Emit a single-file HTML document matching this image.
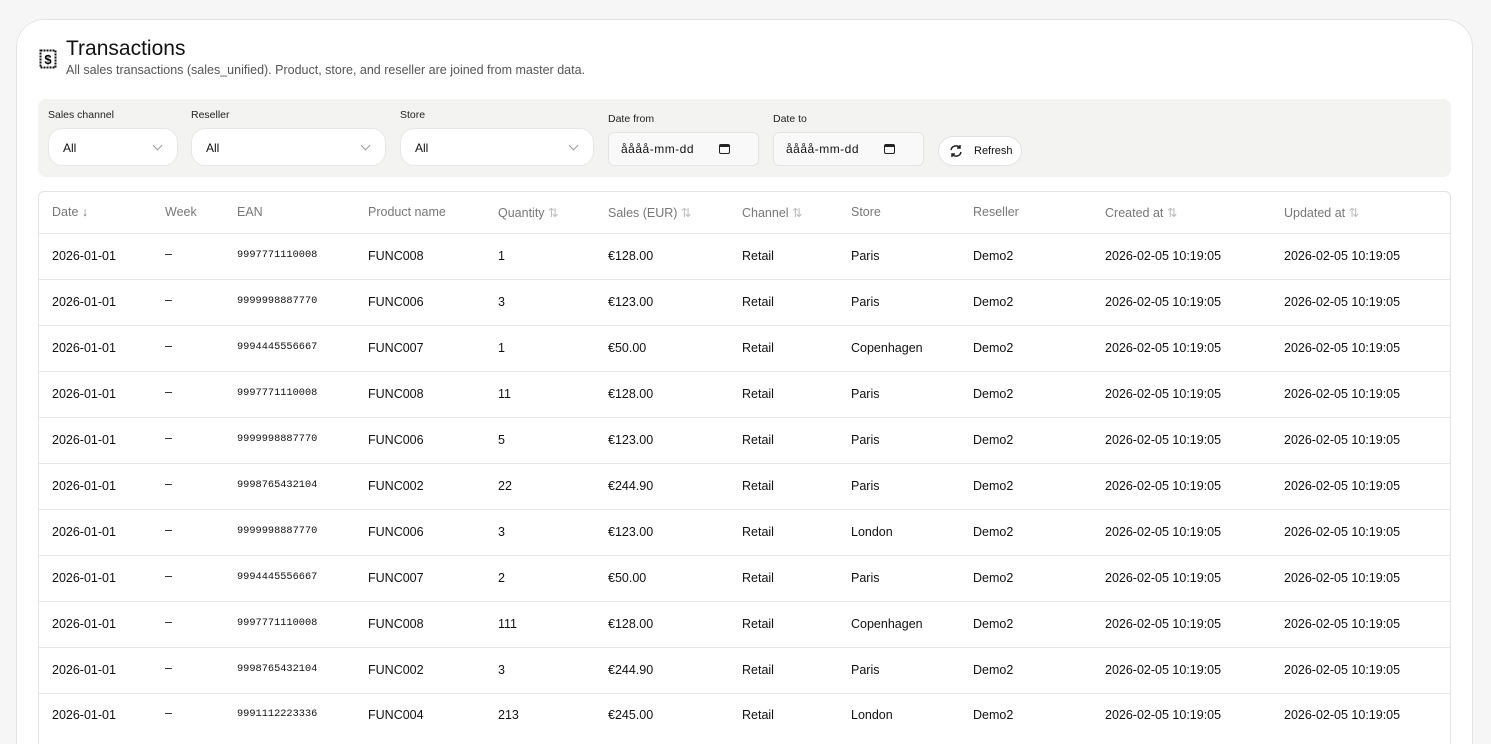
<!DOCTYPE html>
<html><head><meta charset="utf-8"><style>
*{box-sizing:border-box;margin:0;padding:0}
html{width:1491px;height:744px;overflow:hidden}
body{width:1491px;height:744px;overflow:hidden;background:#f6f6f6;font-family:"Liberation Sans",sans-serif;color:#111;position:relative}
.card{position:absolute;left:16px;top:19px;width:1457px;height:725px;background:#fff;border:1px solid #e4e4e4;border-bottom:none;border-radius:28px 28px 0 0}
.abs{position:absolute}
h1{position:absolute;left:66px;top:37px;font-size:21px;font-weight:400;color:#111}
.sub{left:66px;top:63px;font-size:12.5px;color:#555}
.filters{left:38px;top:99px;width:1413px;height:78px;background:#f3f3f1;border-radius:8px}
.lbl{font-size:10.5px;color:#222}
.sel{background:#fff;border:1px solid #e6e6e6;border-radius:14px;height:38px;font-size:12px;padding:12px 14px}
.sel .chev{position:absolute;right:16px;top:13px;width:7px;height:7px;border-right:1px solid #999;border-bottom:1px solid #999;transform:rotate(45deg)}
.date{background:#f9f9f9;border:1px solid #e4e4e4;border-radius:6px;height:34px;font-size:12px;padding:9px 12px;letter-spacing:0.5px}
.cal{position:absolute;right:28px;top:11px;width:11px;height:10px;border:1.5px solid #222;border-top-width:3px;border-radius:2px}
.btn{left:938px;top:136px;width:84px;height:30px;background:#fff;border:1px solid #e2e2e2;border-radius:15px;font-size:11px;padding:8px 0 0 35px}
.table{left:38px;top:191px;width:1413px;height:553px;border:1px solid #e4e4e4;border-bottom:none;border-radius:6px 6px 0 0}
.th{font-size:12.5px;color:#777;top:205px}
.row{position:absolute;left:39px;width:1411px;border-top:1px solid #e6e6e6;height:46px}
.c{position:absolute;font-size:12.5px;color:#111}
.ean{font-family:"Liberation Mono",monospace;font-size:10.3px}
</style></head><body>
<div class="card"></div>
<svg class="abs" style="left:39px;top:49px" width="18" height="20" viewBox="0 0 18 20"><rect x="1.5" y="1.5" width="15" height="17" fill="none" stroke="#111" stroke-width="2" stroke-dasharray="2 1"/><text x="9" y="15" font-size="13" font-weight="bold" text-anchor="middle" font-family="Liberation Sans">$</text></svg>
<h1>Transactions</h1>
<div class="abs sub">All sales transactions (sales_unified). Product, store, and reseller are joined from master data.</div>
<div class="abs filters"></div>
<div class="abs lbl" style="left:48px;top:109px">Sales channel</div>
<div class="abs lbl" style="left:191px;top:109px">Reseller</div>
<div class="abs lbl" style="left:400px;top:109px">Store</div>
<div class="abs lbl" style="left:608px;top:113px">Date from</div>
<div class="abs lbl" style="left:773px;top:113px">Date to</div>
<div class="abs sel" style="left:48px;top:128px;width:130px">All<span class="chev"></span></div>
<div class="abs sel" style="left:191px;top:128px;width:195px">All<span class="chev"></span></div>
<div class="abs sel" style="left:400px;top:128px;width:194px">All<span class="chev"></span></div>
<div class="abs date" style="left:608px;top:132px;width:151px">åååå-mm-dd<span class="cal"></span></div>
<div class="abs date" style="left:773px;top:132px;width:151px">åååå-mm-dd<span class="cal"></span></div>
<div class="abs btn">Refresh</div>
<svg class="abs" style="left:949px;top:144px" width="14" height="14" viewBox="0 0 14 14" fill="none" stroke="#222" stroke-width="1.5"><path d="M2 6a5 5 0 0 1 9-2M12 8a5 5 0 0 1-9 2"/><path d="M11 1v3H8M3 13v-3h3"/></svg>
<div class="abs table"></div>
<div class="abs th" style="left:52px">Date ↓</div>
<div class="abs th" style="left:165px">Week</div>
<div class="abs th" style="left:237px">EAN</div>
<div class="abs th" style="left:368px">Product name</div>
<div class="abs th" style="left:498px">Quantity <span style="color:#bbb">⇅</span></div>
<div class="abs th" style="left:608px">Sales (EUR) <span style="color:#bbb">⇅</span></div>
<div class="abs th" style="left:742px">Channel <span style="color:#bbb">⇅</span></div>
<div class="abs th" style="left:851px">Store</div>
<div class="abs th" style="left:973px">Reseller</div>
<div class="abs th" style="left:1105px">Created at <span style="color:#bbb">⇅</span></div>
<div class="abs th" style="left:1284px">Updated at <span style="color:#bbb">⇅</span></div>
<div id="rows"></div>
<script>
const d=[["9997771110008","FUNC008","1","€128.00","Paris"],["9999998887770","FUNC006","3","€123.00","Paris"],["9994445556667","FUNC007","1","€50.00","Copenhagen"],["9997771110008","FUNC008","11","€128.00","Paris"],["9999998887770","FUNC006","5","€123.00","Paris"],["9998765432104","FUNC002","22","€244.90","Paris"],["9999998887770","FUNC006","3","€123.00","London"],["9994445556667","FUNC007","2","€50.00","Paris"],["9997771110008","FUNC008","111","€128.00","Copenhagen"],["9998765432104","FUNC002","3","€244.90","Paris"],["9991112223336","FUNC004","213","€245.00","London"]];
let h="";d.forEach((r,i)=>{const t=233+i*46;const y=i==10?14:15;const hh=i==10?(744-t):46;
h+=`<div class="row" style="top:${t}px;height:${hh}px">
<div class="c" style="left:13px;top:${y}px">2026-01-01</div>
<div class="c" style="left:126px;top:${y-2}px">–</div>
<div class="c ean" style="left:198px;top:${y}px">${r[0]}</div>
<div class="c" style="left:329px;top:${y}px">${r[1]}</div>
<div class="c" style="left:459px;top:${y}px">${r[2]}</div>
<div class="c" style="left:569px;top:${y}px">${r[3]}</div>
<div class="c" style="left:703px;top:${y}px">Retail</div>
<div class="c" style="left:812px;top:${y}px">${r[4]}</div>
<div class="c" style="left:934px;top:${y}px">Demo2</div>
<div class="c" style="left:1066px;top:${y}px">2026-02-05 10:19:05</div>
<div class="c" style="left:1245px;top:${y}px">2026-02-05 10:19:05</div></div>`});
document.getElementById("rows").innerHTML=h;
</script>
</body></html>
